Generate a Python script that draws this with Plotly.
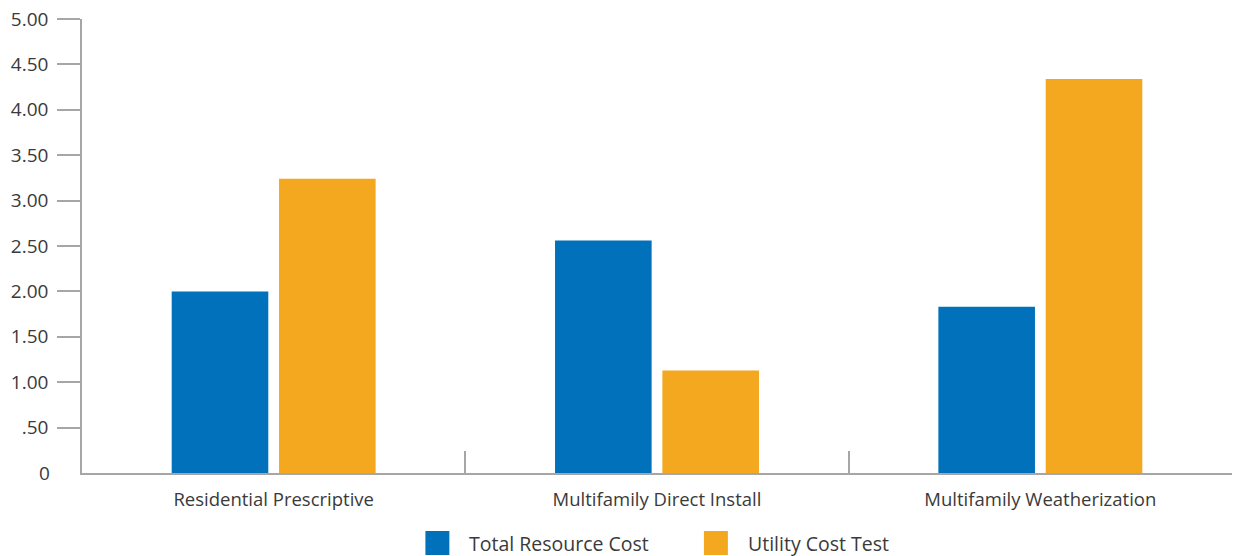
import plotly.graph_objects as go

categories = ["Residential Prescriptive", "Multifamily Direct Install", "Multifamily Weatherization"]
series_names = ["Total Resource Cost", "Utility Cost Test"]
total_resource_cost = [2.00, 2.56, 1.83]
utility_cost_test = [3.24, 1.13, 4.34]
y_tick_values = [0.5, 1.0, 1.5, 2.0, 2.5, 3.0, 3.5, 4.0, 4.5, 5.0]
y_tick_labels = [".50", "1.00", "1.50", "2.00", "2.50", "3.00", "3.50", "4.00", "4.50", "5.00"]

colors = ["#0071BA", "#F4A81F"]
axis_grey = "#A6A6A6"
text_color = "#3A3A3A"
font_family = "Open Sans, Noto Sans, sans-serif"

fig = go.Figure()
for name, values, color in zip(series_names, [total_resource_cost, utility_cost_test], colors):
    fig.add_trace(go.Bar(x=categories, y=values, name=name, marker=dict(color=color, line=dict(width=0)),
                         showlegend=False))

fig.update_layout(
    width=1234, height=556,
    margin=dict(l=82, r=2, t=19, b=83),
    paper_bgcolor="white", plot_bgcolor="white",
    barmode="group", bargap=0.44, bargroupgap=0.10,
    font=dict(family=font_family, color=text_color),
    showlegend=False,
)
fig.update_xaxes(
    type="category", showgrid=False, zeroline=False,
    showline=True, linecolor=axis_grey, linewidth=1.5,
    tickson="boundaries", ticks="inside", ticklen=22, tickcolor=axis_grey, tickwidth=1.5,
    tickfont=dict(size=18.5, color=text_color), ticklabelstandoff=9,
)
fig.update_yaxes(
    range=[0, 5], showgrid=False, zeroline=False,
    showline=True, linecolor=axis_grey, linewidth=1.5,
    tickmode="array", tickvals=y_tick_values, ticktext=y_tick_labels,
    ticks="outside", ticklen=23, tickcolor=axis_grey, tickwidth=1.5,
    tickfont=dict(size=19, color=text_color), ticklabelstandoff=5,
)

# zero label sits beside the axis corner without a tick mark
fig.add_annotation(x=0, y=0, xref="paper", yref="y", text="0", showarrow=False,
                   xanchor="right", yanchor="middle", xshift=-30,
                   font=dict(size=19, color=text_color, family=font_family))

# legend: large colour swatches with labels, centred under the chart
legend_items = [(series_names[0], colors[0], 426), (series_names[1], colors[1], 705)]
for name, color, px in legend_items:
    x0 = (px - 82) / 1152
    x1 = (px + 24 - 82) / 1152
    fig.add_shape(type="rect", xref="paper", yref="paper", x0=x0, x1=x1,
                  y0=-(555 - 473) / 454, y1=-(531 - 473) / 454,
                  fillcolor=color, line=dict(width=0))
    fig.add_annotation(x=(px + 42 - 82) / 1152, y=-(543 - 473) / 454, xref="paper", yref="paper",
                       text=name, showarrow=False, xanchor="left", yanchor="middle",
                       font=dict(size=19.5, color=text_color, family=font_family))

fig.write_html("out.html")
